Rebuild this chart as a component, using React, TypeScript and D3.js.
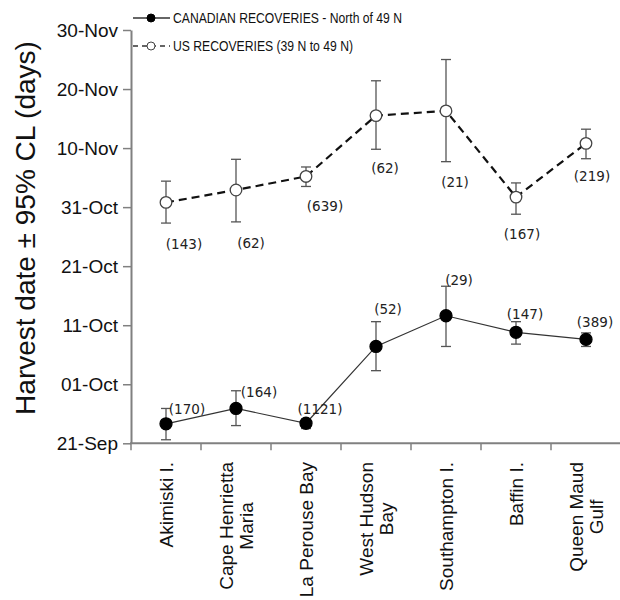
import React, { useEffect, useRef } from 'react';
import * as d3 from 'd3';

// breeding areas, one entry per line of the rotated label
const siteLines = [
  ['Akimiski I.'],
  ['Cape Henrietta', 'Maria'],
  ['La Perouse Bay'],
  ['West Hudson', 'Bay'],
  ['Southampton I.'],
  ['Baffin I.'],
  ['Queen Maud', 'Gulf'],
];
const sites = siteLines.map(l => l.join(' '));

// y values are days after 21-Sep
const yTickValues = [0, 10, 20, 30, 40, 50, 60, 70];
const yTickLabels = ['21-Sep', '01-Oct', '11-Oct', '21-Oct', '31-Oct', '10-Nov', '20-Nov', '30-Nov'];

const canMean = [3.3, 5.9, 3.4, 16.4, 21.6, 18.8, 17.6];
const canLow = [0.6, 3.0, 2.5, 12.3, 16.4, 16.8, 16.4];
const canHigh = [5.9, 8.9, 4.1, 20.6, 26.6, 20.6, 18.7];
const canN = ['(170)', '(164)', '(1121)', '(52)', '(29)', '(147)', '(389)'];

const usMean = [40.8, 42.9, 45.2, 55.5, 56.3, 41.7, 50.8];
const usLow = [37.3, 37.5, 43.5, 49.8, 47.7, 38.8, 48.2];
const usHigh = [44.4, 48.1, 46.8, 61.4, 65.0, 44.1, 53.2];
const usN = ['(143)', '(62)', '(639)', '(62)', '(21)', '(167)', '(219)'];

// sample size label offsets from the marker (px)
const canLabelDx = [21, 23, 14, 12, 13, 9, 9];
const canLabelDy = [-10, -11, -9, -32, -31, -13, -12];
const usLabelDx = [18, 15, 19, 9, 9, 6, 6];
const usLabelDy = [47, 58, 35, 57, 76, 42, 38];

const W = 620;
const H = 600;
const AXIS = '#808080';
const SANS = '"Liberation Sans", Arial, sans-serif';
const LABEL_FONT = '"DejaVu Sans", Verdana, sans-serif';

const Chart: React.FC = () => {
  const svgRef = useRef<SVGSVGElement | null>(null);

  useEffect(() => {
    const svg = d3.select(svgRef.current);
    svg.selectAll('*').remove();

    const x = d3.scaleBand<string>().domain(sites).range([131, 621]).padding(0);
    const y = d3.scaleLinear().domain([0, 70]).range([443.3, 30]);
    const cx = (i: number) => (x(sites[i]) as number) + x.bandwidth() / 2;

    // y axis
    const yAxis = d3
      .axisLeft(y)
      .tickValues(yTickValues)
      .tickFormat((_, i) => yTickLabels[i])
      .tickSize(8)
      .tickSizeOuter(0)
      .tickPadding(5);
    const gy = svg.append('g').attr('transform', 'translate(131,0)').call(yAxis);
    gy.select('.domain').attr('stroke', AXIS).attr('stroke-width', 2);
    gy.selectAll('.tick line').attr('stroke', AXIS).attr('stroke-width', 1.5);
    gy.selectAll('.tick text')
      .attr('font-family', SANS)
      .attr('font-size', 19)
      .attr('fill', '#111');

    // x axis
    svg
      .append('line')
      .attr('x1', 130)
      .attr('x2', 621)
      .attr('y1', y(0))
      .attr('y2', y(0))
      .attr('stroke', AXIS)
      .attr('stroke-width', 2);
    svg
      .append('g')
      .selectAll('line')
      .data(sites)
      .join('line')
      .attr('x1', d => x(d) as number)
      .attr('x2', d => x(d) as number)
      .attr('y1', y(0))
      .attr('y2', y(0) + 7)
      .attr('stroke', AXIS)
      .attr('stroke-width', 1.5);

    // x labels, rotated, lines centred on each other
    const labelTop = 462;
    siteLines.forEach((lines, i) => {
      const n = lines.length;
      const texts = lines.map(line =>
        svg
          .append('text')
          .attr('font-family', SANS)
          .attr('font-size', 19)
          .attr('fill', '#111')
          .attr('dy', '0.35em')
          .text(line)
      );
      const maxLen = d3.max(texts, t => (t.node() as SVGTextElement).getComputedTextLength()) || 0;
      texts.forEach((t, j) => {
        const off = (j - (n - 1) / 2) * 20;
        t.attr('text-anchor', 'middle').attr(
          'transform',
          `translate(${cx(i) + off},${labelTop + maxLen / 2}) rotate(-90)`
        );
      });
    });

    // y title
    svg
      .append('text')
      .attr('transform', 'translate(35,228) rotate(-90)')
      .attr('text-anchor', 'middle')
      .attr('font-family', SANS)
      .attr('font-size', 28)
      .attr('fill', '#111')
      .text('Harvest date \u00b1 95% CL (days)');

    const drawSeries = (
      mean: number[],
      low: number[],
      high: number[],
      labels: string[],
      ldx: number[],
      ldy: number[],
      filled: boolean
    ) => {
      const g = svg.append('g');
      const line = d3
        .line<number>()
        .x((_, i) => cx(i))
        .y(d => y(d));
      g.append('path')
        .datum(mean)
        .attr('d', line)
        .attr('fill', 'none')
        .attr('stroke', filled ? '#333' : '#111')
        .attr('stroke-width', filled ? 1.2 : 2.2)
        .attr('stroke-dasharray', filled ? null : '8,5');

      const eb = g.append('g').attr('stroke', '#555').attr('stroke-width', 1.3);
      mean.forEach((_, i) => {
        eb.append('line').attr('x1', cx(i)).attr('x2', cx(i)).attr('y1', y(low[i])).attr('y2', y(high[i]));
        [low[i], high[i]].forEach(v =>
          eb
            .append('line')
            .attr('x1', cx(i) - 5)
            .attr('x2', cx(i) + 5)
            .attr('y1', y(v))
            .attr('y2', y(v))
        );
      });

      g.selectAll('circle')
        .data(mean)
        .join('circle')
        .attr('cx', (_, i) => cx(i))
        .attr('cy', d => y(d))
        .attr('r', filled ? 6 : 5.8)
        .attr('fill', filled ? '#000' : '#fff')
        .attr('stroke', filled ? '#000' : '#444')
        .attr('stroke-width', 1.3);

      g.selectAll('text')
        .data(labels)
        .join('text')
        .attr('x', (_, i) => cx(i) + ldx[i])
        .attr('y', (_, i) => y(mean[i]) + ldy[i])
        .attr('text-anchor', 'middle')
        .attr('font-family', LABEL_FONT)
        .attr('font-size', 13.5)
        .attr('fill', '#222')
        .text(d => d);
    };

    drawSeries(usMean, usLow, usHigh, usN, usLabelDx, usLabelDy, false);
    drawSeries(canMean, canLow, canHigh, canN, canLabelDx, canLabelDy, true);

    // legend
    const legend = [
      { label: 'CANADIAN RECOVERIES - North of 49 N', filled: true, y: 18, len: 229 },
      { label: 'US RECOVERIES (39 N to 49 N)', filled: false, y: 46, len: 180 },
    ];
    legend.forEach(item => {
      svg
        .append('line')
        .attr('x1', 133)
        .attr('x2', 170)
        .attr('y1', item.y)
        .attr('y2', item.y)
        .attr('stroke', '#333')
        .attr('stroke-width', 1.3)
        .attr('stroke-dasharray', item.filled ? null : '5,4');
      svg
        .append('circle')
        .attr('cx', 151)
        .attr('cy', item.y)
        .attr('r', 4)
        .attr('fill', item.filled ? '#000' : '#fff')
        .attr('stroke', item.filled ? '#000' : '#444')
        .attr('stroke-width', 1);
      svg
        .append('text')
        .attr('x', 173)
        .attr('y', item.y + 5)
        .attr('font-family', SANS)
        .attr('font-size', 14)
        .attr('fill', '#111')
        .attr('textLength', item.len)
        .attr('lengthAdjust', 'spacingAndGlyphs')
        .text(item.label);
    });
  }, []);

  return (
    <svg
      ref={svgRef}
      width={W}
      height={H}
      style={{ position: 'absolute', left: 0, top: 0, background: '#fff' }}
    />
  );
};

export default function App() {
  return <Chart />;
}
